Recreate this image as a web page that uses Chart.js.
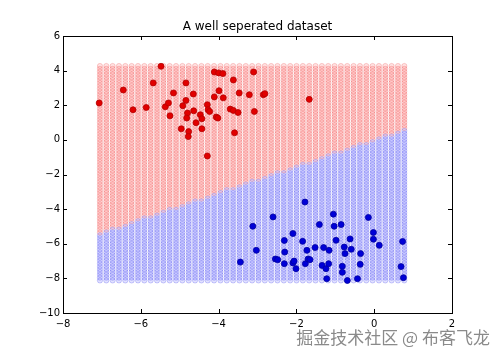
<!DOCTYPE html>
<html>
<head>
<meta charset="utf-8">
<script src="https://cdn.jsdelivr.net/npm/chart.js@4/dist/chart.umd.min.js"></script>
<style>
html,body{margin:0;padding:0;background:#fff;}
#wrap{width:502px;height:358px;position:relative;}
</style>
</head>
<body>
<div id="wrap"><canvas id="c" width="502" height="358"></canvas></div>
<script>
// ---- data ----
const titleText = "A well seperated dataset";
const watermarkText = "掘金技术社区 @ 布客飞龙";
const xTicks = [-8, -6, -4, -2, 0, 2];
const yTicks = [-10, -8, -6, -4, -2, 0, 2, 4, 6];

const redX = [-5.48,-7.07,-6.45,-5.68,-6.20,-5.86,-5.37,-5.29,-5.25,-5.16,-4.84,-4.92,-4.84,-4.65,-4.64,-4.80,-4.82,-4.47,-4.43,-4.58,-4.96,-4.77,-4.78,-4.43,-4.29,-4.27,-4.23,-4.11,-4.06,-4.02,-3.99,-3.88,-4.11,-4.00,-3.89,-3.62,-3.47,-3.70,-3.62,-3.50,-3.59,-3.10,-3.21,-3.08,-2.85,-2.81,-4.29,-1.67];
const redY = [4.25,2.13,2.88,3.29,1.74,1.87,1.91,2.13,1.39,2.71,3.29,1.97,2.28,2.65,1.68,1.55,1.26,1.45,1.22,0.99,0.64,0.48,0.19,0.64,2.03,1.74,1.64,2.48,1.32,1.26,2.84,2.43,3.92,3.87,3.83,3.46,2.71,1.78,1.70,1.58,0.41,3.92,2.61,1.64,2.61,2.67,-0.93,2.34];

const blueX = [-1.78,-2.60,-3.12,-1.41,-1.05,-1.03,-0.85,-0.15,-2.09,-2.31,-1.84,-0.98,-0.62,-0.02,-0.02,0.13,0.73,-3.03,-2.30,-1.73,-1.52,-1.30,-1.16,-0.77,-0.75,-0.59,-0.35,-3.44,-2.54,-2.48,-2.31,-2.09,-2.06,-2.01,-1.77,-1.70,-1.65,-1.34,-1.24,-1.17,-0.82,-0.82,-0.36,0.69,-1.22,-0.69,-0.43,0.75];
const blueY = [-3.59,-4.45,-4.99,-4.89,-4.29,-4.99,-4.89,-4.48,-5.41,-5.81,-5.86,-5.80,-5.72,-5.35,-5.74,-6.09,-5.87,-6.38,-6.48,-6.38,-6.22,-6.22,-6.38,-6.19,-6.57,-6.32,-6.57,-7.06,-6.88,-6.92,-7.15,-7.11,-7.00,-7.44,-7.15,-6.88,-6.92,-7.25,-7.44,-7.15,-7.30,-7.65,-7.19,-7.32,-8.02,-8.12,-8.02,-7.96];

// decision mesh: extent and step, boundary endpoints
const meshX = [-7.05, 0.78];
const meshY = [-8.12, 4.25];
const meshStep = [0.163];
const boundaryX = [-7.05, 0.78];
const boundaryY = [-5.40, 0.60];

// ---- build datasets ----
function pts(xs, ys){ return xs.map((x,i)=>({x:x, y:ys[i]})); }
const meshRed = [], meshBlue = [];
(function(){
  const h = meshStep[0];
  const nx = Math.round((meshX[1]-meshX[0])/h);
  const ny = Math.round((meshY[1]-meshY[0])/h);
  const slope = (boundaryY[1]-boundaryY[0])/(boundaryX[1]-boundaryX[0]);
  for(let i=0;i<=nx;i++){
    const x = meshX[0] + i*h;
    const yb = boundaryY[0] + slope*(x-boundaryX[0]);
    for(let j=0;j<=ny;j++){
      const y = meshY[0] + j*h;
      (y > yb ? meshRed : meshBlue).push({x:x,y:y});
    }
  }
})();

const FONT = "'DejaVu Sans', sans-serif";

const framePlugin = {
  id:'frame',
  afterDatasetsDraw(chart){
    const ctx = chart.ctx, a = chart.chartArea;
    const xs = chart.scales.x, ys = chart.scales.y;
    ctx.save();
    ctx.strokeStyle = '#000';
    ctx.lineWidth = 1;
    ctx.strokeRect(Math.round(a.left)+0.5, Math.round(a.top)+0.5, Math.round(a.right-a.left), Math.round(a.bottom-a.top));
    const tl = 4;
    ctx.beginPath();
    xTicks.forEach(v=>{
      const p = Math.round(xs.getPixelForValue(v))+0.5;
      ctx.moveTo(p, a.bottom); ctx.lineTo(p, a.bottom-tl);
      ctx.moveTo(p, a.top); ctx.lineTo(p, a.top+tl);
    });
    yTicks.forEach(v=>{
      const p = Math.round(ys.getPixelForValue(v))+0.5;
      ctx.moveTo(a.left, p); ctx.lineTo(a.left+tl, p);
      ctx.moveTo(a.right, p); ctx.lineTo(a.right-tl, p);
    });
    ctx.stroke();
    // title
    ctx.fillStyle = '#000';
    ctx.font = '12px ' + FONT;
    ctx.textAlign = 'center';
    ctx.textBaseline = 'alphabetic';
    ctx.fillText(titleText, (a.left+a.right)/2, 30);
    // watermark
    ctx.font = "17px 'Noto Sans CJK SC', sans-serif";
    ctx.textAlign = 'right';
    ctx.textBaseline = 'middle';
    ctx.fillStyle = '#8a8a8a';
    ctx.fillText(watermarkText, 490, 338);
    ctx.restore();
  }
};

const minus = v => String(v).replace('-', '\u2212');

new Chart(document.getElementById('c'), {
  type:'scatter',
  data:{
    datasets:[
      {data:meshRed, pointRadius:2.6, pointBorderWidth:0.8,
       backgroundColor:'rgba(255,60,60,0.15)', borderColor:'rgba(230,40,40,0.28)', order:4},
      {data:meshBlue, pointRadius:2.6, pointBorderWidth:0.8,
       backgroundColor:'rgba(60,60,255,0.15)', borderColor:'rgba(40,40,230,0.28)', order:3},
      {data:pts(redX, redY), pointRadius:3, pointBorderWidth:0.8,
       backgroundColor:'rgb(225,0,0)', borderColor:'rgb(180,0,0)', order:2},
      {data:pts(blueX, blueY), pointRadius:3, pointBorderWidth:0.8,
       backgroundColor:'rgb(0,0,215)', borderColor:'rgb(0,0,160)', order:1}
    ]
  },
  options:{
    responsive:false,
    animation:false,
    events:[],
    layout:{padding:{top:36, right:50, bottom:0, left:0}},
    plugins:{legend:{display:false}, tooltip:{enabled:false}, title:{display:false}},
    scales:{
      x:{type:'linear', min:-8, max:2,
         grid:{display:false, drawTicks:false}, border:{display:false},
         afterBuildTicks(s){ s.ticks = xTicks.map(v=>({value:v})); },
         afterFit(s){ s.height = 45; },
         ticks:{padding:5, color:'#000', font:{family:FONT, size:10}, maxRotation:0, callback:v=>minus(v)}},
      y:{type:'linear', min:-10, max:6,
         grid:{display:false, drawTicks:false}, border:{display:false},
         afterBuildTicks(s){ s.ticks = yTicks.map(v=>({value:v})); },
         afterFit(s){ s.width = 63; },
         ticks:{padding:3, color:'#000', font:{family:FONT, size:10}, callback:v=>minus(v)}}
    }
  },
  plugins:[framePlugin]
});
</script>
</body>
</html>
